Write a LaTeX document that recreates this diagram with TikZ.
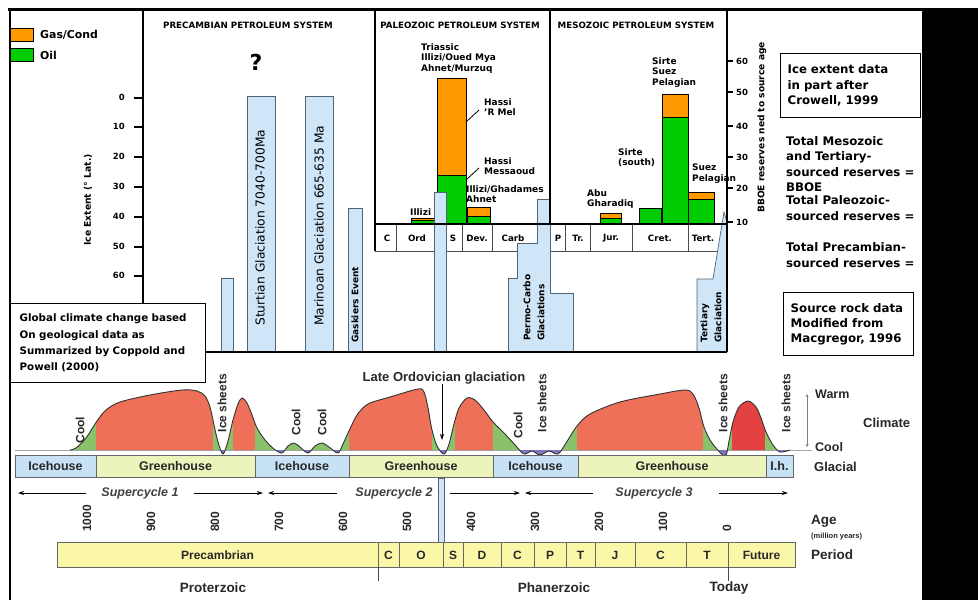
\documentclass[tikz,border=0pt]{standalone}
\usepackage{fontspec}
\setmainfont{DejaVu Sans}
\newfontfamily\arialfont{Liberation Sans}
\usetikzlibrary{arrows.meta, positioning}
\definecolor{gasorange}{RGB}{255,153,0}
\definecolor{oilgreen}{RGB}{0,204,0}
\definecolor{iceblue}{RGB}{207,230,248}
\definecolor{iceedge}{RGB}{80,100,120}
\definecolor{warmred}{RGB}{238,112,88}
\definecolor{hotred}{RGB}{228,66,66}
\definecolor{coolgreen}{RGB}{138,194,108}
\definecolor{glacpurple}{RGB}{128,118,190}
\definecolor{icehouse}{RGB}{200,226,245}
\definecolor{greenhouse}{RGB}{236,244,188}
\definecolor{periodfill}{RGB}{250,248,168}
\definecolor{lowtext}{RGB}{40,40,40}

\tikzset{
  panelline/.style={line width=1.3pt},
  rowline/.style={line width=0.7pt, draw=black!70},
  barbox/.style={draw=black, line width=0.9pt},
  glacbar/.style={fill=iceblue, draw=iceedge, line width=0.7pt},
  sysname/.style={font=\bfseries\fontsize{8.7}{9}\selectfont, inner sep=0pt},
  barlbl/.style={font=\bfseries\fontsize{9}{10.8}\selectfont, align=left, anchor=north west, inner sep=0pt},
  celllbl/.style={font=\bfseries\fontsize{8.7}{10}\selectfont, inner sep=0pt},
  ticklbl/.style={font=\bfseries\fontsize{8.5}{10}\selectfont, inner sep=0pt},
  glaclbl/.style={font=\fontsize{12.3}{13}\selectfont, rotate=90, anchor=west, inner sep=0pt},
  smallglac/.style={font=\bfseries\fontsize{9}{14}\selectfont, rotate=90, anchor=west, align=left, inner sep=0pt},
  notetxt/.style={font=\bfseries\fontsize{11.8}{15.3}\selectfont, align=left, inner sep=0pt},
  notebox/.style={draw, fill=white, line width=1.3pt, align=left, anchor=north west, inner ysep=0pt},
  bandbox/.style={draw=black!60, line width=0.8pt},
  bandlbl/.style={font=\arialfont\bfseries\fontsize{12.5}{14}\selectfont, text=lowtext, inner sep=0pt},
  climlbl/.style={font=\arialfont\bfseries\fontsize{12}{13}\selectfont, text=lowtext, rotate=90, inner sep=0pt},
  lowlbl/.style={font=\arialfont\bfseries\fontsize{13}{15}\selectfont, text=lowtext, inner sep=0pt},
  cyclelbl/.style={font=\arialfont\bfseries\itshape\fontsize{12.5}{14}\selectfont, text=black!75, inner sep=0pt},
  agelbl/.style={font=\arialfont\bfseries\fontsize{12}{14}\selectfont, text=lowtext, rotate=90, anchor=west, inner sep=0pt},
  cyclearrow/.style={-{Stealth[length=6pt, width=4pt]}, line width=0.8pt},
}

\def\climpath{plot[smooth, tension=0.5] coordinates {(70,450) (76,448) (86,438) (97,421) (106,410) (120,402) (150,395) (182,390) (197,391) (205,396) (210,407) (214,425) (218,442) (223,454) (228,441) (233,420) (238,404) (242,398) (247,403) (252,415) (257,428) (265,440) (274,449) (282,453) (288,446) (294,443) (300,447) (308,453) (315,446) (322,443) (329,447) (338,453) (343,444) (349,431) (357,415) (368,404) (390,397) (418,389) (424,392) (428,408) (432,430) (437,446) (444,454) (449,444) (454,424) (459,408) (467,398) (475,400) (484,410) (493,422) (505,434) (516,446) (524,454) (532,451) (540,455) (549,451) (558,454) (566,443) (577,426) (590,414) (620,402) (660,394) (685,390) (693,394) (699,408) (704,427) (712,443) (725,456) (729,441) (733,422) (739,407) (748,401) (756,407) (761,418) (766,432) (773,445) (780,452) (790,450)}}

\begin{document}
\begin{tikzpicture}[x=1pt, y=-1pt]
  \useasboundingbox (0,0) rectangle (978,600);
  \fill[white] (0,0) rectangle (978,600);

  % legend
  \draw[barbox, fill=gasorange] (10,28) rectangle (33,41);
  \draw[barbox, fill=oilgreen] (10,48) rectangle (33,61);
  \node[font=\bfseries\fontsize{10.9}{12}\selectfont, anchor=west, inner sep=0pt] (gaslbl) at (40,35) {Gas/Cond};
  \node[font=\bfseries\fontsize{10.9}{12}\selectfont, anchor=west, inner sep=0pt] (oillbl) at (40,55) {Oil};

  % ice extent axis
  \node[ticklbl, rotate=90, font=\bfseries\fontsize{9.2}{10}\selectfont] (iceext) at (88,200) {Ice Extent (° Lat.)};
  \foreach \lat/\ty in {0/98,10/127,20/157,30/187,40/217,50/247,60/276}{
    \draw[panelline] (134,\ty) -- (143,\ty);
    \node[ticklbl, anchor=east] (lat\lat) at (125,\ty-1) {\lat};
  }

  % system titles
  \node[sysname] (precsys) at (248,25) {PRECAMBIAN PETROLEUM SYSTEM};
  \node[sysname] (paleosys) at (460,25) {PALEOZOIC PETROLEUM SYSTEM};
  \node[sysname] (mesosys) at (636,25) {MESOZOIC PETROLEUM SYSTEM};
  \node[font=\bfseries\fontsize{22}{24}\selectfont, inner sep=0pt] (unknown) at (256,62) {?};

  % period rows of the upper panel
  \draw[rowline] (375,251) -- (520,251);
  \draw[rowline] (550,251) -- (727,251);
  \draw[rowline] (550,224) -- (550,251);
  \foreach \dx in {396,434,462,492,565,590,632,688}
    \draw[rowline] (\dx,224) -- (\dx,251);
  \foreach \cx/\ct in {387/C, 417/Ord, 453/S, 477/Dev., 513/Carb, 558/P, 578/Tr., 611/Jur., 660/Cret., 703/Tert.}
    \node[celllbl] (cell\cx) at (\cx,238) {\ct};

  % reserve bars
  \foreach \xa/\xb/\ya/\ym in {411/434/218.5/220.5, 437/466/78/175, 467/490/207/216, 600/621/213/218, 662/688/94/117, 688/714/192/199}{
    \draw[barbox, fill=gasorange] (\xa,\ya) rectangle (\xb,\ym);
    \draw[barbox, fill=oilgreen] (\xa,\ym) rectangle (\xb,224);
  }
  \draw[barbox, fill=oilgreen] (639,208) rectangle (661,224);

  % bar labels
  \node[barlbl] (triassic) at (421,43) {Triassic\\Illizi/Oued Mya\\Ahnet/Murzuq};
  \node[barlbl] (hrmel) at (484,98) {Hassi\\'R Mel};
  \node[barlbl] (hmess) at (484,157) {Hassi\\Messaoud};
  \node[barlbl] (ghadames) at (466,185) {Illizi/Ghadames\\Ahnet};
  \node[barlbl] (illizi) at (410,208) {Illizi};
  \node[barlbl] (sirtes) at (618,148) {Sirte\\(south)};
  \node[barlbl] (sirte) at (652,57) {Sirte\\Suez\\Pelagian};
  \node[barlbl] (abu) at (587,189) {Abu\\Gharadiq};
  \node[barlbl] (suez) at (692,164) {Suez\\Pelagian};
  \coordinate (hrmbar) at (466,122);
  \coordinate (hrmtip) at (479,110);
  \coordinate (hmbar) at (466,180);
  \coordinate (hmtip) at (479,168);
  \draw[line width=0.8pt] (hrmbar) -- (hrmtip);
  \draw[line width=0.8pt] (hmbar) -- (hmtip);

  % glaciations
  \draw[glacbar] (221,278) rectangle (233,352);
  \draw[glacbar] (247,96) rectangle (275,352);
  \draw[glacbar] (305,96) rectangle (333,352);
  \draw[glacbar] (348,208) rectangle (362,352);
  \draw[glacbar] (434,192) rectangle (446,352);
  \draw[glacbar] (508,352) -- (508,278) -- (517,278) -- (517,243) -- (537,243) -- (537,199) -- (550,199) -- (550,293) -- (573,293) -- (573,352) -- cycle;
  \draw[glacbar] (697,352) -- (697,279) -- (713,279) -- (724,212) -- (727,222) -- (727,352) -- cycle;
  \node[glaclbl] (sturtian) at (260,326) {Sturtian Glaciation 7040-700Ma};
  \node[glaclbl] (marinoan) at (319,326) {Marinoan Glaciation 665-635 Ma};
  \node[smallglac] (gaskiers) at (355,343) {Gaskiers Event};
  \node[smallglac] (permocarbo) at (534,341) {Permo-Carbo\\Glaciations};
  \node[smallglac] (tertglac) at (711,343) {Tertiary\\Glaciation};

  % panel frame
  \draw[panelline] (143,10) -- (143,303);
  \draw[panelline] (375,10) -- (375,251);
  \draw[panelline] (550,10) -- (550,224);
  \draw[panelline] (375,224) -- (727,224);
  \draw[panelline] (727,10) -- (727,352);
  \draw[panelline] (205,352) -- (727,352);

  % reserves axis
  \foreach \bb/\ty in {60/61,50/92,40/126,30/157,20/188,10/222}{
    \draw[panelline] (727,\ty) -- (733,\ty);
    \node[ticklbl, anchor=west] (bb\bb) at (736,\ty) {\bb};
  }
  \node[ticklbl, rotate=90, anchor=west, font=\bfseries\fontsize{9.1}{10}\selectfont] (bboe) at (762,213) {BBOE reserves ned to source age};

  % notes
  \node[notebox, notetxt, text width=126pt, inner xsep=7pt, minimum height=64pt] (icenote) at (780,53) {Ice extent data\\in part after\\Crowell, 1999};
  \node[notetxt, anchor=west] (mesototal) at (786,164) {Total Mesozoic\\and Tertiary-\\sourced reserves =\\BBOE};
  \node[notetxt, anchor=west] (paleototal) at (786,208) {Total Paleozoic-\\sourced reserves =};
  \node[notetxt, anchor=west] (prectotal) at (786,255) {Total Precambian-\\sourced reserves =};
  \node[notebox, notetxt, text width=116pt, inner xsep=7pt, minimum height=63pt] (srcnote) at (783,292) {Source rock data\\Modified from\\Macgregor, 1996};
  \node[notebox, notetxt, font=\bfseries\fontsize{10.3}{16.3}\selectfont, text width=177pt, inner xsep=9pt, minimum height=79pt] (climnote) at (10,303) {Global climate change based\\On geological data as\\Summarized by Coppold and\\Powell (2000)};

  % climate curve
  \draw[black!35, line width=1pt] (15,450) -- (812,450);
  \fill[coolgreen] \climpath -- cycle;
  \begin{scope}
    \clip \climpath -- cycle;
    \foreach \xa/\xb in {96/213, 233/255, 349/432, 455/493, 577/703}
      \fill[warmred] (\xa,380) rectangle (\xb,451);
    \fill[hotred] (732,380) rectangle (765,451);
  \end{scope}
  \begin{scope}
    \clip (0,450.5) rectangle (978,470);
    \fill[glacpurple] \climpath -- cycle;
  \end{scope}
  \draw[black!80, line width=0.9pt] \climpath;

  \foreach \cx/\cy in {80/430, 296/422, 322/422, 518/425}
    \node[climlbl] (cool\cx) at (\cx,\cy) {Cool};
  \foreach \ix in {222, 542, 723, 786}
    \node[climlbl] (ice\ix) at (\ix,403) {Ice sheets};

  \node[lowlbl] (lateord) at (444,378) {Late Ordovician glaciation};
  \coordinate (ordvalley) at (442,440);
  \draw[-{Stealth[length=6pt, width=4pt]}, line width=0.8pt] (lateord.south -| ordvalley) -- (ordvalley);

  \node[lowlbl, anchor=west, font=\arialfont\bfseries\fontsize{12.5}{14}\selectfont] (warm) at (815,394) {Warm};
  \node[lowlbl, anchor=west, font=\arialfont\bfseries\fontsize{12.5}{14}\selectfont] (coolend) at (815,447) {Cool};
  \draw[{Stealth[length=3pt, width=3pt]}-{Stealth[length=3pt, width=3pt]}, black!50, line width=0.6pt] ([xshift=-8pt]warm.west) -- ([xshift=-8pt]coolend.west);
  \node[lowlbl, anchor=west] (climate) at (863,423) {Climate};
  \node[lowlbl, anchor=west] (glacial) at (814,467) {Glacial};

  % icehouse / greenhouse band
  \foreach \xa/\xb/\fc/\bt in {15/96/icehouse/Icehouse, 96/255/greenhouse/Greenhouse, 255/349/icehouse/Icehouse, 349/493/greenhouse/Greenhouse, 493/578/icehouse/Icehouse, 578/766/greenhouse/Greenhouse, 766/793/icehouse/I.h.}{
    \draw[bandbox, fill=\fc] (\xa,455) rectangle (\xb,477);
    \node[bandlbl] (band\xa) at ({(\xa+\xb)/2},466) {\bt};
  }

  % supercycles
  \node[cyclelbl] (sc1) at (140,493) {Supercycle 1};
  \node[cyclelbl] (sc2) at (394,493) {Supercycle 2};
  \node[cyclelbl] (sc3) at (654,493) {Supercycle 3};
  \coordinate (sc1l) at (18,493);
  \coordinate (sc1r) at (263,493);
  \coordinate (sc2l) at (268,493);
  \coordinate (sc2r) at (520,493);
  \coordinate (sc3l) at (525,493);
  \coordinate (sc3r) at (788,493);
  \draw[cyclearrow] ([xshift=-15pt]sc1.west) -- (sc1l);
  \draw[cyclearrow] ([xshift=15pt]sc1.east) -- (sc1r);
  \draw[cyclearrow] ([xshift=-18pt]sc2.west) -- (sc2l);
  \draw[cyclearrow] ([xshift=17pt]sc2.east) -- (sc2r);
  \draw[cyclearrow] ([xshift=-22pt]sc3.west) -- (sc3l);
  \draw[cyclearrow] ([xshift=26pt]sc3.east) -- (sc3r);

  % ages
  \foreach \age in {1000,900,...,0}
    \node[agelbl] (age\age) at ({727-0.64*\age},532) {\age};
  \node[lowlbl, anchor=west, font=\arialfont\bfseries\fontsize{13.5}{15}\selectfont] (agehead) at (811,521) {Age};
  \node[lowlbl, anchor=west, font=\arialfont\bfseries\fontsize{7.5}{9}\selectfont] (ageunit) at (811,537) {(million years)};
  \node[lowlbl, anchor=west, font=\arialfont\bfseries\fontsize{13.5}{15}\selectfont] (periodhead) at (811,555) {Period};

  % period bar
  \draw[glacbar] (438,478) rectangle (444,542);
  \foreach \xa/\xb/\pt in {57/378/Precambrian, 378/399/C, 399/443/O, 443/463/S, 463/501/D, 501/534/C, 534/566/P, 566/595/T, 595/635/J, 635/686/C, 686/728/T, 728/795/Future}{
    \draw[bandbox, fill=periodfill] (\xa,542) rectangle (\xb,567);
    \node[bandlbl, font=\arialfont\bfseries\fontsize{12}{14}\selectfont] (per\xa) at ({(\xa+\xb)/2},555) {\pt};
  }
  \draw[black!70, line width=0.8pt] (378,567) -- (378,581);
  \draw[black!70, line width=0.8pt] (728,567) -- (728,581);
  \node[lowlbl, font=\arialfont\bfseries\fontsize{13.5}{15}\selectfont] (proter) at (213,588) {Proterzoic};
  \node[lowlbl, font=\arialfont\bfseries\fontsize{13.5}{15}\selectfont] (phaner) at (554,588) {Phanerzoic};
  \node[lowlbl, font=\arialfont\bfseries\fontsize{13.5}{15}\selectfont] (today) at (729,588) {Today};

  % outer frame
  \fill[black] (922,8) rectangle (978,600);
  \draw[line width=3pt] (8,9.5) -- (922,9.5);
  \draw[line width=1.5pt] (10,8) -- (10,600);
\end{tikzpicture}
\end{document}
